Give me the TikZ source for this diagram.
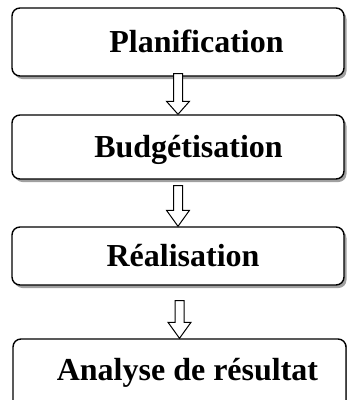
\documentclass[tikz,border=0pt]{standalone}
\usepackage{fontspec}
\setmainfont{Liberation Serif}
\usetikzlibrary{calc,shadows}
\definecolor{shadowgray}{HTML}{A0A0A0}
\tikzset{
  stagebox/.style={draw=black, line width=1.4pt, rounded corners=8pt, fill=white,
    minimum width=332pt, inner sep=0pt, text height=20pt, text depth=0pt,
    font=\fontsize{32}{38}\selectfont\bfseries,
    drop shadow={shadow xshift=2.5pt, shadow yshift=-3pt, fill=shadowgray, opacity=1}},
  blockarrow/.style={draw=black, line width=1pt, fill=white, line join=miter}
}
% hollow block arrow from the bottom of #1 to the top of #2;
% #3 = gap below #1, #4 = head length
\newcommand\stagearrow[4]{%
  \path[blockarrow] let \p1=(#1.south), \p2=(#2.north) in
    (\x2-4.5pt,\y1-#3) -- (\x2+4.5pt,\y1-#3) -- (\x2+4.5pt,\y2+#4)
    -- (\x2+11.5pt,\y2+#4) -- (\x2,\y2) -- (\x2-11.5pt,\y2+#4)
    -- (\x2-4.5pt,\y2+#4) -- cycle;}
\begin{document}
\begin{tikzpicture}[x=1pt,y=-1pt]
  \useasboundingbox (0,0) rectangle (347,400);
  \clip (0,0) rectangle (347,400);
  \node[stagebox, minimum height=68pt] (plan) at (178,42) {\hspace*{37pt}Planification};
  \node[stagebox, minimum height=64pt] (budget) at (178,147) {\hspace*{21pt}Budgétisation};
  \node[stagebox, minimum height=58pt] (real) at (178,256) {\hspace*{10pt}Réalisation};
  \node[stagebox, minimum width=333pt, minimum height=72pt, text depth=10pt]
        (analyse) at (179.5,375) {\hspace*{16pt}Analyse de résultat};
  \stagearrow{plan}{budget}{-3pt}{13pt}
  \stagearrow{budget}{real}{6pt}{16pt}
  \stagearrow{real}{analyse}{15pt}{16pt}
\end{tikzpicture}
\end{document}
